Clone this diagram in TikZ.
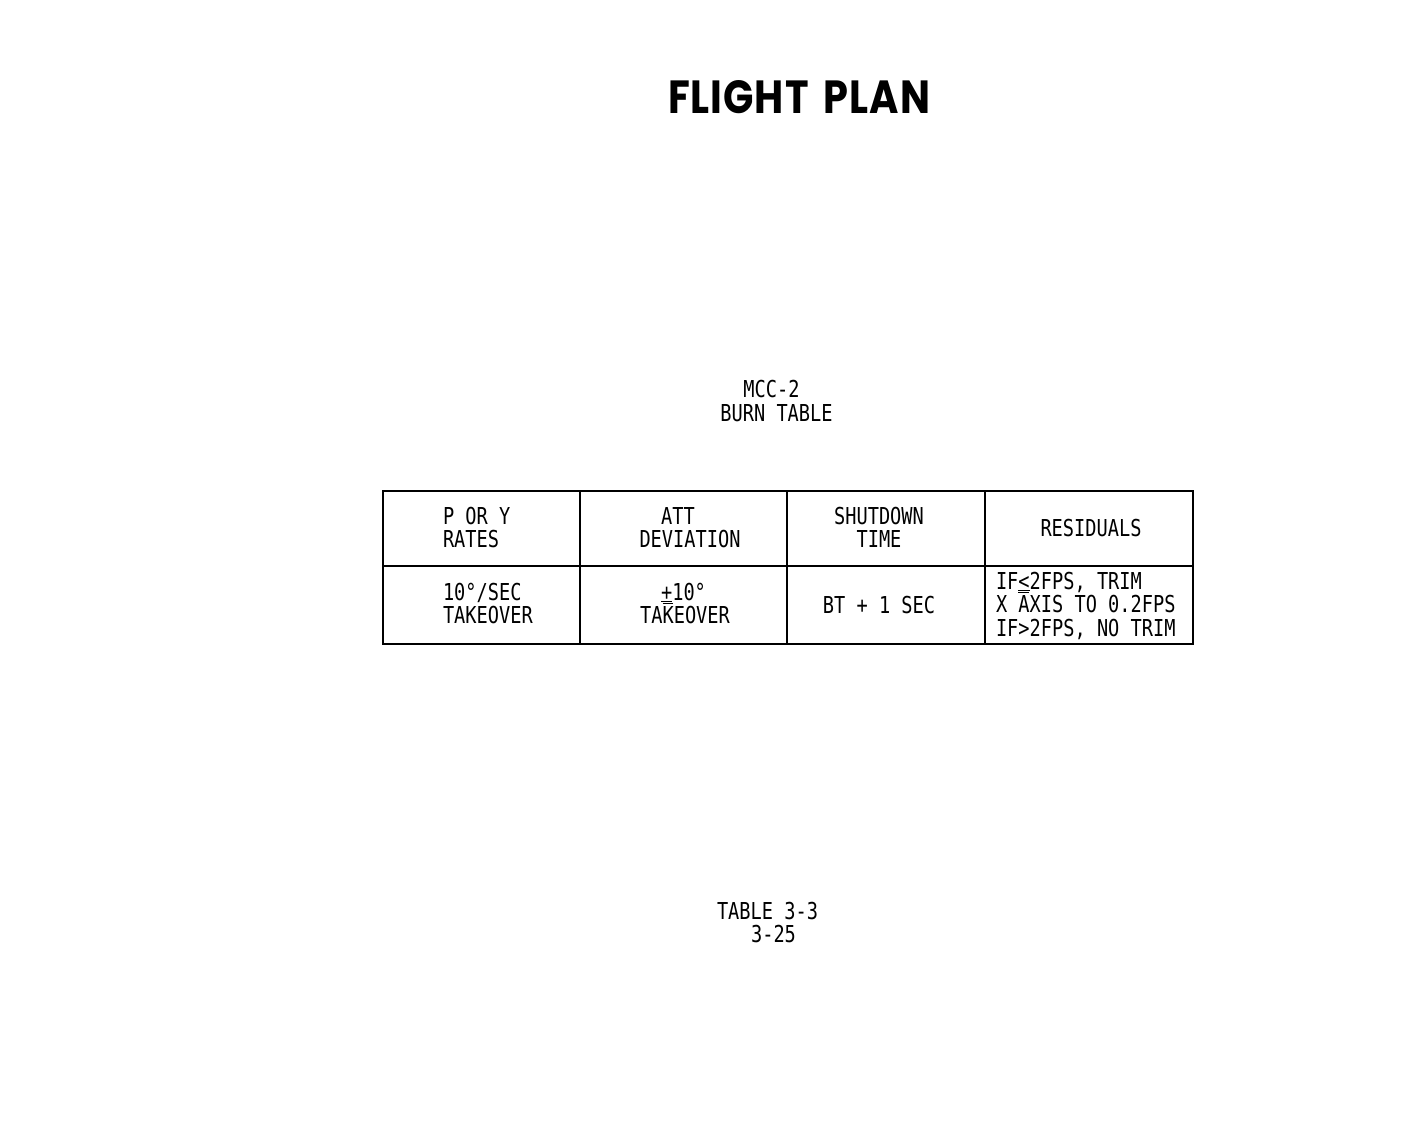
\documentclass[tikz,border=0pt]{standalone}
\usepackage{fontspec}
\newfontfamily\mono[FakeStretch=0.8]{DejaVu Sans Mono}
\newfontfamily\titlefont[LetterSpace=2.5,WordSpace=1.6]{Poppins}
\tikzset{
  txt/.style={inner sep=0pt, outer sep=0pt, font=\mono\fontsize{23.3}{24}\selectfont},
  tl/.style={txt, anchor=base west},
  tc/.style={txt, anchor=base},
  grid/.style={line width=2.8pt, line cap=rect}
}
\begin{document}
\begin{tikzpicture}[x=1pt,y=-1pt]
\useasboundingbox (0,0) rectangle (1428,1128);
% title
\node[inner sep=0pt, anchor=base] (title) at (799,113) {\resizebox{262pt}{33pt}{\titlefont\bfseries FLIGHT PLAN}};
\node[tc] (mcc) at (771.5,397) {MCC-2};
\node[tc] (burn) at (776.5,421) {BURN TABLE};
% table
\coordinate (tl) at (383,491);
\coordinate (br) at (1193,644);
\draw[grid] (tl) rectangle (br);
\draw[grid] (580,491) -- (580,644);
\draw[grid] (787,491) -- (787,644);
\draw[grid] (985,491) -- (985,644);
\draw[grid] (383,566) -- (1193,566);
% header row
\node[tl] (h1a) at (443,524) {P OR Y};
\node[tl] (h1b) at (443,547) {RATES};
\node[tc] (h2a) at (678,524) {ATT};
\node[tc] (h2b) at (690,547) {DEVIATION};
\node[tc] (h3a) at (879,524) {SHUTDOWN};
\node[tc] (h3b) at (879,547) {TIME};
\node[tc] (h4) at (1091,536) {RESIDUALS};
% data row
\node[tl] (d1a) at (443,600) {10°/SEC};
\node[tl] (d1b) at (443,623) {TAKEOVER};
\node[tc] (d2a) at (683.5,600) {\underline{+}10°};
\node[tc] (d2b) at (685,623) {TA\rlap{\raisebox{0pt}[0pt][0pt]{\rule[19pt]{10pt}{1.4pt}}}KEOVER};
\node[tc] (d3) at (879,613) {BT + 1 SEC};
\node[tl] (d4a) at (996,589) {IF\underline{<}2FPS, TRIM};
\node[tl] (d4b) at (996,612) {X \rlap{\raisebox{0pt}[0pt][0pt]{\rule[19pt]{11pt}{1.4pt}}}AXIS TO 0.2FPS};
\node[tl] (d4c) at (996,636) {IF>2FPS, NO TRIM};
% footer
\node[tc] (tab) at (767.5,919) {TABLE 3-3};
\node[tc] (pg) at (773.5,942) {3-25};
\end{tikzpicture}
\end{document}
